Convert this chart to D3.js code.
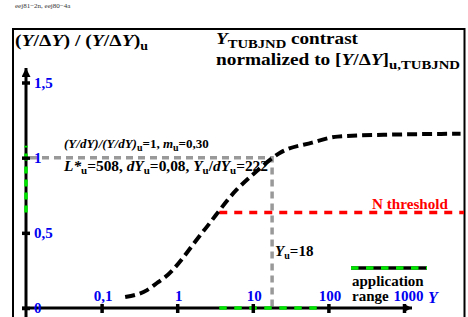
<!DOCTYPE html>
<html>
<head>
<meta charset="utf-8">
<script src="https://cdn.jsdelivr.net/npm/d3@7"></script>
<style>
  body { margin: 0; background: #fff; }
  text { font-family: "Liberation Serif", "Times New Roman", serif; font-weight: bold; }
</style>
</head>
<body>
<div id="d3_div"></div>
<script>
// curve: luminance Y (log axis) and normalized contrast
var curveY = [0.205, 0.40, 0.56, 0.69, 2.21, 6.2, 11.5, 23, 61, 132, 535, 5600];
var curveV = [0.073, 0.119, 0.172, 0.205, 0.51, 0.79, 0.914, 1.033, 1.10, 1.14, 1.152, 1.159];

// tick values and labels
var xTicks = [0.1, 1, 10, 100, 1000];
var xTickLabels = ["0,1", "1", "10", "100", "1000"];
var yTicks = [0, 0.5, 1, 1.5];
var yTickLabels = ["0", "0,5", "1", "1,5"];
var xBelowTicks = [0.01, 0.1, 1, 10, 100, 1000];
var xBelowLabels = ["-2", "-1", "0", "1", "2", "3"];

// reference values
var unitY = [18];           // Y_u
var unitV = [1];            // normalized contrast at Y_u
var appRangeY = [3.6, 72];  // application range on Y
var appRangeV = [0.636, 1.08];
var thresholdY = [3.6, 1e5];
var thresholdV = [0.636];

var W = 468, H = 317;

var svg = d3.select("#d3_div")
  .append("svg")
    .attr("width", W)
    .attr("height", H);

var x = d3.scaleLog().domain([0.01, 1000]).range([26, 404]);
var y = d3.scaleLinear().domain([0, 1.5]).range([308, 82.5]);

var green = "#00e600", blue = "#0000f0";

// arrow head marker
svg.append("defs").append("marker")
    .attr("id", "arr")
    .attr("markerUnits", "userSpaceOnUse")
    .attr("viewBox", "0 0 10 10")
    .attr("refX", 10).attr("refY", 5)
    .attr("markerWidth", 11).attr("markerHeight", 9)
    .attr("orient", "auto")
  .append("path")
    .attr("d", "M0,0 L10,5 L0,10 z")
    .attr("fill", "#000");

svg.select("defs").append("clipPath").attr("id", "clip")
  .append("rect").attr("x", 14).attr("y", 30).attr("width", 450).attr("height", 300);

// small header
svg.append("text")
    .attr("x", 15).attr("y", 8)
    .attr("font-size", 7)
    .style("font-weight", "normal")
    .attr("fill", "#333")
    .text("eej81\u22122n, eej80\u22124a");

// frame
svg.append("path")
    .attr("d", "M13," + (H + 20) + " V29 H464.5 V" + (H + 20))
    .attr("fill", "none")
    .attr("stroke", "#000")
    .attr("stroke-width", 2);

var plot = svg.append("g").attr("clip-path", "url(#clip)");

// gray reference lines at Y_u
plot.append("path")
    .attr("d", "M" + (x(0.01) + 4) + "," + y(unitV[0]) + " H" + x(unitY[0]) + " V" + y(0))
    .attr("fill", "none")
    .attr("stroke", "#999")
    .attr("stroke-width", 3.5)
    .attr("stroke-dasharray", "7,5");

// N threshold
plot.append("line")
    .attr("x1", x(thresholdY[0])).attr("x2", x(thresholdY[1]))
    .attr("y1", y(thresholdV[0])).attr("y2", y(thresholdV[0]))
    .attr("stroke", "#ff0000")
    .attr("stroke-width", 3.5)
    .attr("stroke-dasharray", "8,7");

// contrast curve
var pts = curveY.map(function(d, i) { return [d, curveV[i]]; });
plot.append("path")
    .datum(pts)
    .attr("fill", "none")
    .attr("stroke", "#000")
    .attr("stroke-width", 4)
    .attr("stroke-dasharray", "10,5")
    .attr("d", d3.line()
      .x(function(d) { return x(d[0]); })
      .y(function(d) { return y(d[1]); })
      .curve(d3.curveMonotoneX));

// y axis line
svg.append("line")
    .attr("x1", x(0.01)).attr("x2", x(0.01))
    .attr("y1", H + 5).attr("y2", 68)
    .attr("stroke", "#000").attr("stroke-width", 3)
    .attr("marker-end", "url(#arr)");

// x axis line
svg.append("line")
    .attr("x1", 22).attr("x2", 412)
    .attr("y1", y(0)).attr("y2", y(0))
    .attr("stroke", "#000").attr("stroke-width", 3)
    .attr("marker-end", "url(#arr)");

// application range on both axes
svg.append("line")
    .attr("x1", x(appRangeY[0])).attr("x2", x(appRangeY[1]))
    .attr("y1", y(0)).attr("y2", y(0))
    .attr("stroke", green).attr("stroke-width", 3.5)
    .attr("stroke-dasharray", "7.5,7.5");
svg.append("line")
    .attr("x1", x(0.01)).attr("x2", x(0.01))
    .attr("y1", y(appRangeV[0])).attr("y2", y(appRangeV[1]))
    .attr("stroke", green).attr("stroke-width", 3.5)
    .attr("stroke-dasharray", "7,6");

// x axis ticks + labels
var gx = svg.append("g")
    .attr("transform", "translate(0," + y(0) + ")")
    .call(d3.axisTop(x)
      .tickValues(xTicks)
      .tickFormat(function(d, i) { return xTickLabels[i]; })
      .tickSizeInner(4).tickSizeOuter(0).tickPadding(3));
gx.select(".domain").remove();
gx.selectAll(".tick line").attr("y1", 5).attr("stroke-width", 3.5).attr("stroke", "#000");
gx.selectAll(".tick text")
    .attr("fill", blue).attr("font-size", 15)
    .style("font-family", "'Liberation Serif', serif")
    .attr("dx", function(d) { return d === 1000 ? 4 : 1; });

// labels under the axis (mostly cut off by the window)
svg.append("g").selectAll("text")
    .data(xBelowTicks)
    .enter().append("text")
    .attr("x", function(d) { return x(d); })
    .attr("y", y(0) + 17)
    .attr("text-anchor", "middle")
    .attr("font-size", 12)
    .attr("fill", "#444")
    .text(function(d, i) { return xBelowLabels[i]; });

// y axis ticks + labels
var gy = svg.append("g")
    .attr("transform", "translate(" + x(0.01) + ",0)")
    .call(d3.axisRight(y)
      .tickValues(yTicks)
      .tickFormat(function(d, i) { return yTickLabels[i]; })
      .tickSizeInner(4).tickSizeOuter(0).tickPadding(4));
gy.select(".domain").remove();
gy.selectAll(".tick line").attr("x1", -4).attr("stroke-width", 3.5).attr("stroke", "#000");
gy.selectAll(".tick text")
    .attr("fill", blue).attr("font-size", 15)
    .style("font-family", "'Liberation Serif', serif");

// titles
var t1 = svg.append("text").attr("x", 15).attr("y", 46).attr("font-size", 17)
    .attr("textLength", 133).attr("lengthAdjust", "spacingAndGlyphs");
t1.append("tspan").text("(");
t1.append("tspan").attr("font-style", "italic").text("Y");
t1.append("tspan").text("/\u0394");
t1.append("tspan").attr("font-style", "italic").text("Y");
t1.append("tspan").text(") / (");
t1.append("tspan").attr("font-style", "italic").text("Y");
t1.append("tspan").text("/\u0394");
t1.append("tspan").attr("font-style", "italic").text("Y");
t1.append("tspan").text(")");
t1.append("tspan").attr("font-size", 12).attr("dy", 4).text("u");

var t2 = svg.append("text").attr("x", 216).attr("y", 44).attr("font-size", 17)
    .attr("textLength", 142).attr("lengthAdjust", "spacingAndGlyphs");
t2.append("tspan").attr("font-style", "italic").text("Y");
t2.append("tspan").attr("font-size", 13).attr("dy", 4).text("TUBJND");
t2.append("tspan").attr("dy", -4).text(" contrast");

var t3 = svg.append("text").attr("x", 216).attr("y", 65).attr("font-size", 17)
    .attr("textLength", 244).attr("lengthAdjust", "spacingAndGlyphs");
t3.append("tspan").text("normalized to [");
t3.append("tspan").attr("font-style", "italic").text("Y");
t3.append("tspan").text("/\u0394");
t3.append("tspan").attr("font-style", "italic").text("Y");
t3.append("tspan").text("]");
t3.append("tspan").attr("font-size", 13).attr("dy", 4).text("u,TUBJND");

// annotation lines
function rich(parent, parts) {
  parts.forEach(function(p) {
    var s = parent.append("tspan").text(p[0]);
    if (p[1] === "i") s.attr("font-style", "italic");
    if (p[1] === "s") s.attr("font-size", 10).attr("dy", 3);
    if (p[1] === "n") s.attr("dy", -3);
  });
}
var a1 = svg.append("text").attr("x", 64).attr("y", 148).attr("font-size", 13);
rich(a1, [["(Y/dY)/(Y/dY)", "i"], ["u", "s"], ["=1, ", "n"], ["m", "i"], ["u", "s"], ["=0,30", "n"]]);
var a2 = svg.append("text").attr("x", 64).attr("y", 171).attr("font-size", 14)
    .attr("textLength", 204).attr("lengthAdjust", "spacingAndGlyphs");
rich(a2, [["L*", "i"], ["u", "s"], ["=508, ", "n"], ["dY", "i"], ["u", "s"], ["=0,08, ", "n"],
          ["Y", "i"], ["u", "s"], ["/", "n"], ["dY", "i"], ["u", "s"], ["=222", "n"]]);

var a3 = svg.append("text").attr("x", x(unitY[0]) + 3).attr("y", 256).attr("font-size", 15);
rich(a3, [["Y", "i"], ["u", "s"], ["=18", "n"]]);

svg.append("text")
    .attr("x", 372).attr("y", 209)
    .attr("font-size", 15)
    .attr("textLength", 76).attr("lengthAdjust", "spacingAndGlyphs")
    .attr("fill", "#ff0000")
    .text("N threshold");

// legend
svg.append("line")
    .attr("x1", 351).attr("x2", 427).attr("y1", 268).attr("y2", 268)
    .attr("stroke", "#000").attr("stroke-width", 3.5);
svg.append("line")
    .attr("x1", 351).attr("x2", 427).attr("y1", 268).attr("y2", 268)
    .attr("stroke", green).attr("stroke-width", 3.5)
    .attr("stroke-dasharray", "7.5,7.5");
svg.append("text").attr("x", 352).attr("y", 286).attr("font-size", 15).text("application");
svg.append("text").attr("x", 352).attr("y", 301).attr("font-size", 15).text("range");
svg.append("text").attr("x", 428).attr("y", 303).attr("font-size", 16)
    .attr("font-style", "italic").attr("fill", blue).text("Y");
svg.append("text").attr("x", 434).attr("y", 327).attr("font-size", 14).text("lg Y");
</script>
</body>
</html>
